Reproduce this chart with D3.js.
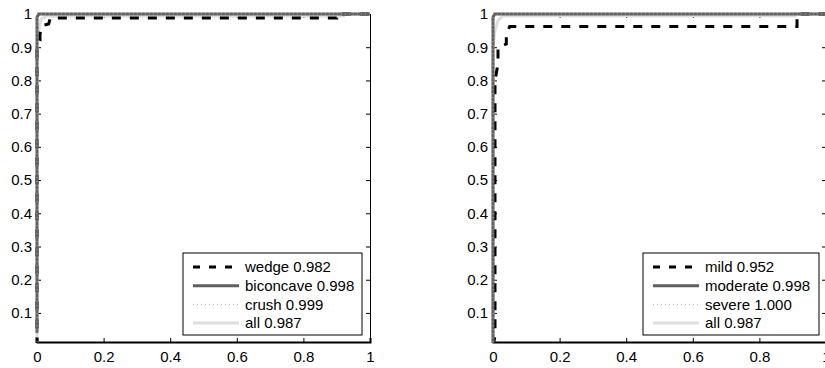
<!DOCTYPE html>
<html>
<head>
<meta charset="utf-8">
<script src="https://cdn.jsdelivr.net/npm/d3@7/dist/d3.min.js"></script>
<style>
  html, body { margin: 0; padding: 0; background: #fff; }
  svg { display: block; font-family: "Liberation Sans", Arial, sans-serif; }
</style>
</head>
<body>
<svg id="chart" width="825" height="368"></svg>
<script>
// ROC curves, two panels (shape / severity)

var xTicks = [0, 0.2, 0.4, 0.6, 0.8, 1];
var yTicks = [0.1, 0.2, 0.3, 0.4, 0.5, 0.6, 0.7, 0.8, 0.9, 1];
var yMin = 0.0125;

var shapeLabels    = ['wedge 0.982', 'biconcave 0.998', 'crush 0.999', 'all 0.987'];
var severityLabels = ['mild 0.952', 'moderate 0.998', 'severe 1.000', 'all 0.987'];

// [fpr, tpr]
var wedgeROC     = [[0,0],[0,0.9],[0.009,0.92],[0.009,0.94],[0.015,0.965],[0.035,0.97],[0.04,0.988],[0.9,0.988],[0.9,1],[1,1]];
var biconcaveROC = [[0,0.04],[0,0.99],[0.005,1],[1,1]];
var crushROC     = [[0,0],[0,1],[1,1]];
var allShapeROC  = [[0,0],[0,0.9],[0.005,0.95],[0.012,0.985],[0.03,0.994],[0.92,0.994],[0.92,1],[1,1]];

var mildROC      = [[0,0],[0.006,0.03],[0.006,0.8],[0.015,0.85],[0.015,0.9],[0.04,0.91],[0.04,0.94],[0.05,0.962],[0.913,0.962],[0.913,1],[1,1]];
var moderateROC  = [[0,0],[0,0.99],[0.005,1],[1,1]];
var severeROC    = [[0,0],[0,1],[1,1]];
var allSevROC    = [[0,0],[0,0.9],[0.006,0.95],[0.015,0.98],[0.03,0.995],[0.907,0.995],[0.907,1],[1,1]];

// line styles, same order as the legend
var STYLES = [
  { stroke: '#000',    width: 3,   dash: '9,9' },
  { stroke: '#5f5f5f', width: 3,   dash: null },
  { stroke: '#b0b0b0', width: 1,   dash: '1,3' },
  { stroke: '#dedede', width: 3,   dash: null }
];
var DRAW_ORDER = [3, 0, 1, 2];

var svg = d3.select('#chart');
var plotW = 333, plotTop = 14, plotBottom = 342;

var y = d3.scaleLinear().domain([yMin, 1]).range([plotBottom, plotTop]);

function panel(x0, curves, labels, legendX, legendW, id){
  var x = d3.scaleLinear().domain([0, 1]).range([x0, x0 + plotW]);
  var g = svg.append('g');

  // axes, ticks inward on all four sides
  var xb = g.append('g').attr('transform', 'translate(0,' + plotBottom + ')')
    .call(d3.axisBottom(x).tickValues(xTicks).tickFormat(d3.format('')).tickSize(-4).tickPadding(9));
  g.append('g').attr('transform', 'translate(0,' + plotTop + ')')
    .call(d3.axisTop(x).tickValues(xTicks).tickFormat('').tickSize(-4));
  g.append('g').attr('transform', 'translate(' + x0 + ',0)')
    .call(d3.axisLeft(y).tickValues(yTicks).tickFormat(d3.format('')).tickSize(-4).tickPadding(5));
  g.append('g').attr('transform', 'translate(' + (x0 + plotW) + ',0)')
    .call(d3.axisRight(y).tickValues(yTicks).tickFormat('').tickSize(-4));

  g.selectAll('.domain').attr('stroke', '#000').attr('stroke-width', 1);
  g.selectAll('.tick line').attr('stroke', '#000');
  g.selectAll('.tick text').attr('fill', '#000').style('font-size', '15px');
  // bottom axis looks heavier in the original
  xb.select('.domain').attr('stroke-width', 2);

  svg.append('clipPath').attr('id', id)
    .append('rect')
    .attr('x', x0 - 3).attr('y', plotTop - 3)
    .attr('width', plotW + 6).attr('height', plotBottom - plotTop + 4);

  var line = d3.line().x(function(d){ return x(d[0]); }).y(function(d){ return y(d[1]); });
  var lines = g.append('g').attr('clip-path', 'url(#' + id + ')');

  DRAW_ORDER.forEach(function(i){
    var s = STYLES[i];
    lines.append('path')
      .datum(curves[i])
      .attr('d', line)
      .attr('fill', 'none')
      .attr('stroke', s.stroke)
      .attr('stroke-width', s.width)
      .attr('stroke-dasharray', s.dash);
  });

  // legend
  var lg = g.append('g');
  var ly = 253, rowH = 18.7;
  lg.append('rect')
    .attr('x', legendX).attr('y', ly)
    .attr('width', legendW).attr('height', 82)
    .attr('fill', '#fff').attr('stroke', '#000').attr('stroke-width', 1);
  labels.forEach(function(lbl, i){
    var s = STYLES[i];
    var cy = ly + 14 + i * rowH;
    lg.append('line')
      .attr('x1', legendX + 10).attr('x2', legendX + 56)
      .attr('y1', cy).attr('y2', cy)
      .attr('stroke', s.stroke).attr('stroke-width', s.width)
      .attr('stroke-dasharray', s.dash === '9,9' ? '7,9' : s.dash);
    lg.append('text')
      .attr('x', legendX + 62).attr('y', cy).attr('dy', '0.35em')
      .style('font-size', '15px')
      .text(lbl);
  });
}

panel(37, [wedgeROC, biconcaveROC, crushROC, allShapeROC], shapeLabels, 183, 179, 'clipA');
panel(493, [mildROC, moderateROC, severeROC, allSevROC], severityLabels, 643, 176, 'clipB');
</script>
</body>
</html>
